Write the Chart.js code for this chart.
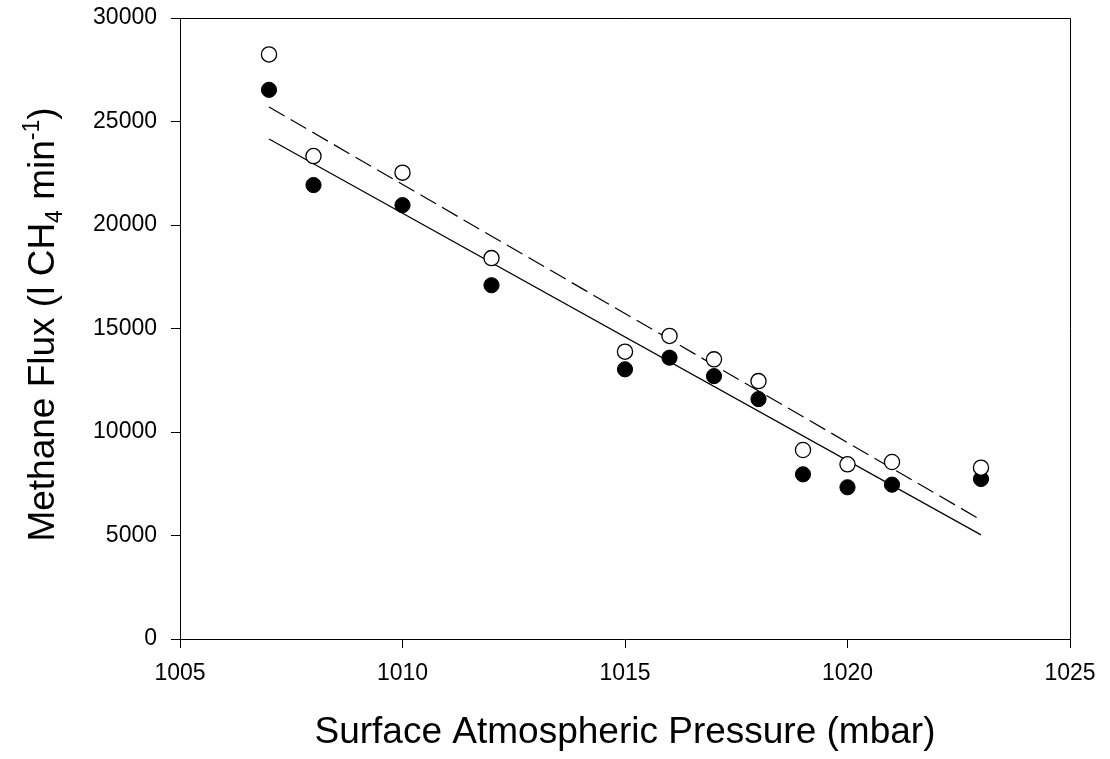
<!DOCTYPE html>
<html>
<head>
<meta charset="utf-8">
<script src="https://cdn.jsdelivr.net/npm/chart.js@4/dist/chart.umd.min.js"></script>
<style>
  body { margin: 0; background: #fff; }
  canvas { display: block; }
</style>
</head>
<body>
<canvas id="myChart" width="1110" height="759"></canvas>
<script>
// data
const pressure = [1007, 1008, 1010, 1012, 1015, 1016, 1017, 1018, 1019, 1020, 1021, 1023];
const openFlux = [28240, 23330, 22530, 18400, 13880, 14640, 13510, 12460, 9130, 8440, 8550, 8275];
const filledFlux = [26530, 21930, 20960, 17090, 13030, 13590, 12700, 11590, 7955, 7330, 7455, 7730];

// regression lines (ends)
const fitX = [1007, 1023];
const solidFit = [24150, 5030];
const dashedFit = [25700, 5750];

const xTicks = [1005, 1010, 1015, 1020, 1025];
const yTicks = [0, 5000, 10000, 15000, 20000, 25000, 30000];

const FONT = "'Liberation Sans', Arial, sans-serif";

function toPoints(xs, ys) {
  return xs.map(function (x, i) {
    return { x: x, y: ys[i] };
  });
}

// box round the plot and the axis titles (with sub/superscripts)
const framePlugin = {
  id: "frame",
  afterDraw: function (chart) {
    const ctx = chart.ctx;
    const a = chart.chartArea;
    ctx.save();
    ctx.strokeStyle = "#000";
    ctx.lineWidth = 1;
    ctx.beginPath();
    ctx.moveTo(a.left, a.top + 0.5);
    ctx.lineTo(a.right + 0.5, a.top + 0.5);
    ctx.lineTo(a.right + 0.5, a.bottom);
    ctx.stroke();

    ctx.fillStyle = "#000";
    ctx.textBaseline = "alphabetic";

    // x title
    ctx.font = "37px " + FONT;
    ctx.textAlign = "center";
    ctx.fillText("Surface Atmospheric Pressure (mbar)", (a.left + a.right) / 2, 743);

    // y title, rotated
    const parts = [
      { t: "Methane Flux (l CH", size: 37, dy: 0 },
      { t: "4", size: 23, dy: 8 },
      { t: " min", size: 37, dy: 0 },
      { t: "-1", size: 23, dy: -15 },
      { t: ")", size: 37, dy: 0 },
    ];
    ctx.textAlign = "left";
    let total = 0;
    parts.forEach(function (p) {
      ctx.font = p.size + "px " + FONT;
      p.w = ctx.measureText(p.t).width;
      total += p.w;
    });
    ctx.translate(54, (a.top + a.bottom) / 2 - 4);
    ctx.rotate(-Math.PI / 2);
    let px = -total / 2;
    parts.forEach(function (p) {
      ctx.font = p.size + "px " + FONT;
      ctx.fillText(p.t, px, p.dy);
      px += p.w;
    });
    ctx.restore();
  },
};

const ctx = document.getElementById("myChart").getContext("2d");

new Chart(ctx, {
  type: "scatter",
  data: {
    datasets: [
      {
        label: "open",
        data: toPoints(pressure, openFlux),
        pointRadius: 7.6,
        pointBackgroundColor: "#fff",
        pointBorderColor: "#000",
        pointBorderWidth: 1.3,
      },
      {
        label: "filled",
        data: toPoints(pressure, filledFlux),
        pointRadius: 7.6,
        pointBackgroundColor: "#000",
        pointBorderColor: "#000",
        pointBorderWidth: 1,
      },
      {
        type: "line",
        label: "fit solid",
        data: toPoints(fitX, solidFit),
        borderColor: "#000",
        borderWidth: 1.2,
        pointRadius: 0,
        fill: false,
      },
      {
        type: "line",
        label: "fit dashed",
        data: toPoints(fitX, dashedFit),
        borderColor: "#000",
        borderWidth: 1.2,
        borderDash: [18, 7],
        pointRadius: 0,
        fill: false,
      },
    ],
  },
  options: {
    responsive: false,
    animation: false,
    devicePixelRatio: 1,
    layout: { padding: { left: 0, top: 18, right: 40, bottom: 0 } },
    plugins: {
      legend: { display: false },
      tooltip: { enabled: false },
    },
    scales: {
      x: {
        type: "linear",
        min: 1005,
        max: 1025,
        afterBuildTicks: function (scale) {
          scale.ticks = xTicks.map(function (v) { return { value: v }; });
        },
        afterFit: function (scale) {
          scale.height = 120;
          scale.paddingLeft = 0;
          scale.paddingRight = 0;
        },
        border: { color: "#000", width: 1 },
        grid: { drawOnChartArea: false, tickLength: 9, color: "#000" },
        ticks: {
          padding: 12,
          color: "#000",
          font: { family: FONT, size: 23 },
          maxRotation: 0,
          callback: function (v) { return String(v); },
        },
      },
      y: {
        min: 0,
        max: 30000,
        afterBuildTicks: function (scale) {
          scale.ticks = yTicks.map(function (v) { return { value: v }; });
        },
        afterFit: function (scale) {
          scale.width = 180;
          scale.paddingTop = 0;
          scale.paddingBottom = 0;
        },
        border: { color: "#000", width: 1 },
        grid: { drawOnChartArea: false, tickLength: 9, color: "#000" },
        ticks: {
          padding: 14,
          color: "#000",
          font: { family: FONT, size: 23 },
          callback: function (v) { return String(v); },
        },
      },
    },
  },
  plugins: [framePlugin],
});
</script>
</body>
</html>
